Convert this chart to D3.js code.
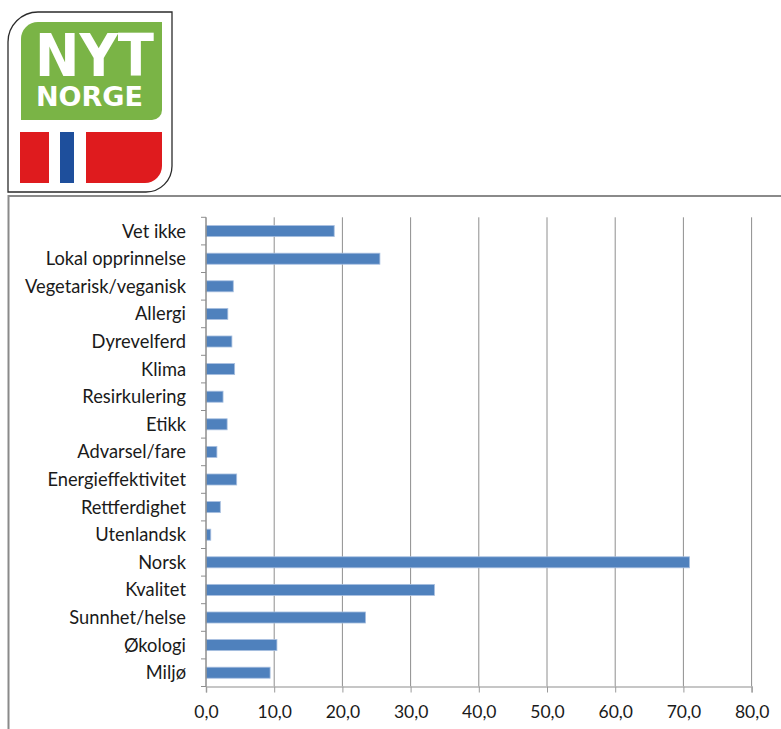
<!DOCTYPE html>
<html>
<head>
<meta charset="utf-8">
<script src="https://cdn.jsdelivr.net/npm/d3@7"></script>
<style>
  html, body { margin: 0; padding: 0; background: #ffffff; }
  svg { display: block; }
  text { font-family: Lato, "Open Sans", sans-serif; }
</style>
</head>
<body>
<svg id="chart" width="781" height="729"></svg>
<script>
// Answer categories, top to bottom
const categories = [
  "Vet ikke", "Lokal opprinnelse", "Vegetarisk/veganisk", "Allergi",
  "Dyrevelferd", "Klima", "Resirkulering", "Etikk", "Advarsel/fare",
  "Energieffektivitet", "Rettferdighet", "Utenlandsk", "Norsk",
  "Kvalitet", "Sunnhet/helse", "Økologi", "Miljø"
];
// Share of respondents (%)
const values = [
  18.8, 25.5, 4.0, 3.2,
  3.8, 4.2, 2.5, 3.1, 1.6,
  4.5, 2.1, 0.7, 70.9,
  33.5, 23.4, 10.4, 9.4
];
const xTicks = [0, 10, 20, 30, 40, 50, 60, 70, 80];

const svg = d3.select("#chart");

// ---- Nyt Norge logo ----
const logo = svg.append("g");
// outer frame: rounded top-left and bottom-right corners
logo.append("path")
  .attr("d", "M8,42 A30,30 0 0 1 38,12 L172,12 L172,166 A26,26 0 0 1 146,192 L8,192 Z")
  .attr("fill", "#ffffff")
  .attr("stroke", "#2b2b2b")
  .attr("stroke-width", 1.3);
// green field
logo.append("path")
  .attr("d", "M21,39 A17,17 0 0 1 38,22 L162,22 L162,110 A10,10 0 0 1 152,120 L21,120 Z")
  .attr("fill", "#7ab446");
// wordmark, two lines in one text block
const word = logo.append("text")
  .attr("fill", "#ffffff")
  .style("font-family", "'DejaVu Sans Condensed', 'DejaVu Sans', sans-serif")
  .style("font-weight", "bold");
word.append("tspan")
  .attr("x", 35).attr("y", 76)
  .attr("textLength", 119).attr("lengthAdjust", "spacingAndGlyphs")
  .style("font-size", "58px")
  .text("NYT");
word.append("tspan")
  .attr("x", 36).attr("y", 106)
  .attr("textLength", 107).attr("lengthAdjust", "spacingAndGlyphs")
  .style("font-size", "26px")
  .style("font-weight", "600")
  .text("NORGE");
// flag stripes
logo.append("rect").attr("x", 20).attr("y", 132).attr("width", 29).attr("height", 51).attr("fill", "#df1b1e");
logo.append("rect").attr("x", 60).attr("y", 132).attr("width", 14).attr("height", 51).attr("fill", "#1e4f9c");
logo.append("path")
  .attr("d", "M86,132 L162,132 L162,166 A17,17 0 0 1 145,183 L86,183 Z")
  .attr("fill", "#df1b1e");

// ---- chart frame ----
svg.append("path")
  .attr("d", "M8.5,729 L8.5,196 L781,196")
  .attr("fill", "none")
  .attr("stroke", "#8a8a8a")
  .attr("stroke-width", 2);

// ---- scales ----
const plotTop = 217.3, plotBottom = 686.5;
const x = d3.scaleLinear().domain([0, 80]).range([206, 751.6]);
const y = d3.scaleBand()
  .domain(categories)
  .range([plotTop, plotBottom])
  .paddingInner(0.6)
  .paddingOuter(0.3);
const step = y.step();

const nb = d3.formatLocale({ decimal: ",", thousands: " ", grouping: [3], currency: ["", " kr"] });
const fmt = nb.format(".1f");

// vertical gridlines
svg.append("g")
  .selectAll("line")
  .data(xTicks.filter(t => t > 0))
  .join("line")
  .attr("x1", d => x(d)).attr("x2", d => x(d))
  .attr("y1", plotTop).attr("y2", plotBottom)
  .attr("stroke", "#8e8e8e")
  .attr("stroke-width", 1);

// x axis
const xAxis = svg.append("g")
  .attr("transform", `translate(0,${plotBottom})`)
  .call(d3.axisBottom(x).tickValues(xTicks).tickFormat(fmt).tickSize(6).tickPadding(13));
xAxis.select(".domain").attr("stroke", "#b4b4b4").attr("stroke-width", 1.6);
xAxis.selectAll(".tick line").attr("stroke", "#9a9a9a");
xAxis.selectAll(".tick text")
  .attr("fill", "#1a1a1a")
  .style("font-size", "17.5px")
  .style("font-family", "Lato, sans-serif");

// bars
svg.append("g")
  .selectAll("rect")
  .data(categories.map((c, i) => ({ c, v: values[i] })))
  .join("rect")
  .attr("x", x(0))
  .attr("y", d => y(d.c))
  .attr("width", d => x(d.v) - x(0))
  .attr("height", y.bandwidth())
  .attr("fill", "#4f81bd")
  .attr("stroke", "#a9c0e0")
  .attr("stroke-width", 0.8);

// y axis line and category boundary ticks
const boundaries = categories.map(c => y(c) - y.paddingOuter() * step).concat([plotBottom]);
const yAxis = svg.append("g");
yAxis.append("line")
  .attr("x1", x(0)).attr("x2", x(0))
  .attr("y1", plotTop).attr("y2", plotBottom)
  .attr("stroke", "#8e8e8e").attr("stroke-width", 1.5);
yAxis.selectAll("line.tk")
  .data(boundaries)
  .join("line")
  .attr("class", "tk")
  .attr("x1", x(0) - 5).attr("x2", x(0))
  .attr("y1", d => d).attr("y2", d => d)
  .attr("stroke", "#8e8e8e").attr("stroke-width", 1);

// category labels
svg.append("g")
  .selectAll("text")
  .data(categories)
  .join("text")
  .attr("x", 186)
  .attr("y", d => y(d) + y.bandwidth() / 2)
  .attr("dy", "0.36em")
  .attr("text-anchor", "end")
  .attr("fill", "#1a1a1a")
  .style("font-size", "18.3px")
  .text(d => d);
</script>
</body>
</html>
